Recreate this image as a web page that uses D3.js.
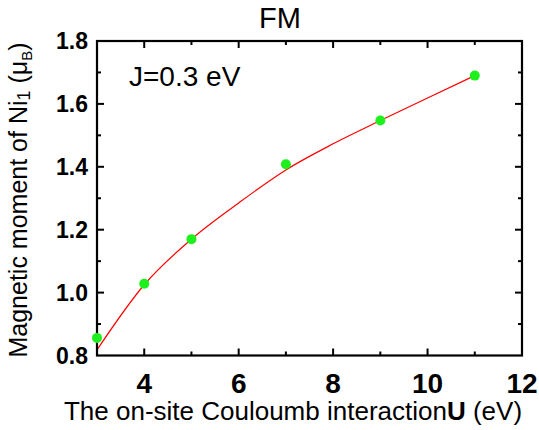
<!DOCTYPE html>
<html><head><meta charset="utf-8">
<script src="https://cdn.jsdelivr.net/npm/d3@7"></script>
<style>body{margin:0;background:#fff}svg{display:block}text{font-family:"Liberation Sans",Arial,sans-serif}</style>
</head><body>
<script>
const uValues = [3, 4, 5, 7, 9, 11];
const momentValues = [0.856, 1.028, 1.17, 1.408, 1.547, 1.69];
const fitU = [3, 4, 5, 6, 7, 8, 9, 10, 11];
const fitMoment = [0.818, 1.025, 1.17, 1.285, 1.39, 1.473, 1.547, 1.619, 1.69];
const xTickLabels = [4, 6, 8, 10, 12];
const yTickLabels = [0.8, 1.0, 1.2, 1.4, 1.6, 1.8];

const W = 539, H = 430;
const m = {l: 97, r: 522, t: 41, b: 355.5};
const svg = d3.select("body").append("svg").attr("width", W).attr("height", H);
const x = d3.scaleLinear().domain([3, 12]).range([m.l, m.r]);
const y = d3.scaleLinear().domain([0.8, 1.8]).range([m.b, m.t]);

const xMinor = d3.range(4, 12, 1);
const yMinor = d3.range(0.9, 1.8, 0.1).map(v => +v.toFixed(1));
const isMajorX = v => v % 2 === 0;
const isMajorY = v => Math.round(v * 10) % 2 === 0;
const tg = svg.append("g").attr("stroke", "#000").attr("stroke-width", 2);
xMinor.forEach(v => {
  const L = isMajorX(v) ? 7 : 4;
  tg.append("line").attr("x1", x(v)).attr("x2", x(v)).attr("y1", m.b).attr("y2", m.b - L);
  tg.append("line").attr("x1", x(v)).attr("x2", x(v)).attr("y1", m.t).attr("y2", m.t + L);
});
yMinor.forEach(v => {
  const L = isMajorY(v) ? 7 : 4;
  tg.append("line").attr("y1", y(v)).attr("y2", y(v)).attr("x1", m.l).attr("x2", m.l + L);
  tg.append("line").attr("y1", y(v)).attr("y2", y(v)).attr("x1", m.r).attr("x2", m.r - L);
});

const line = d3.line().x((d, i) => x(fitU[i])).y(d => y(d)).curve(d3.curveMonotoneX);
svg.append("path").attr("d", line(fitMoment)).attr("fill", "none").attr("stroke", "#ff0000").attr("stroke-width", 1.2);

svg.append("rect").attr("x", m.l).attr("y", m.t).attr("width", m.r - m.l).attr("height", m.b - m.t)
  .attr("fill", "none").attr("stroke", "#000").attr("stroke-width", 2.2);

svg.append("g").selectAll("circle").data(momentValues).join("circle")
  .attr("cx", (d, i) => x(uValues[i])).attr("cy", d => y(d)).attr("r", 5).attr("fill", "#1ef01e");

svg.append("g").selectAll("text").data(xTickLabels).join("text")
  .attr("x", d => x(d)).attr("y", 393).attr("text-anchor", "middle")
  .attr("font-size", 28).attr("font-weight", "bold").text(d => d);
svg.append("g").selectAll("text").data(yTickLabels).join("text")
  .attr("x", 88).attr("y", d => y(d) + 8).attr("text-anchor", "end")
  .attr("font-size", 23).attr("font-weight", "bold").text(d => d.toFixed(1));

svg.append("text").attr("x", 280).attr("y", 28).attr("text-anchor", "middle").attr("font-size", 29).text("FM");

svg.append("text").attr("x", 129).attr("y", 86).attr("font-size", 28).text("J=0.3 eV");

const xt = svg.append("text").attr("x", 293).attr("y", 420).attr("text-anchor", "middle").attr("font-size", 26);
xt.append("tspan").text("The on-site Couloumb interaction");
xt.append("tspan").attr("font-weight", "bold").text("U");
xt.append("tspan").text(" (eV)");

const yt = svg.append("text").attr("transform", "translate(27,200) rotate(-90)").attr("text-anchor", "middle").attr("font-size", 25);
yt.append("tspan").text("Magnetic moment of Ni");
yt.append("tspan").attr("font-size", 18).attr("dy", 3).text("1");
yt.append("tspan").attr("dy", -3).text(" (\u03bc");
yt.append("tspan").attr("font-size", 15).attr("dy", 5).text("B");
yt.append("tspan").attr("dy", -5).text(")");
</script>
</body></html>
